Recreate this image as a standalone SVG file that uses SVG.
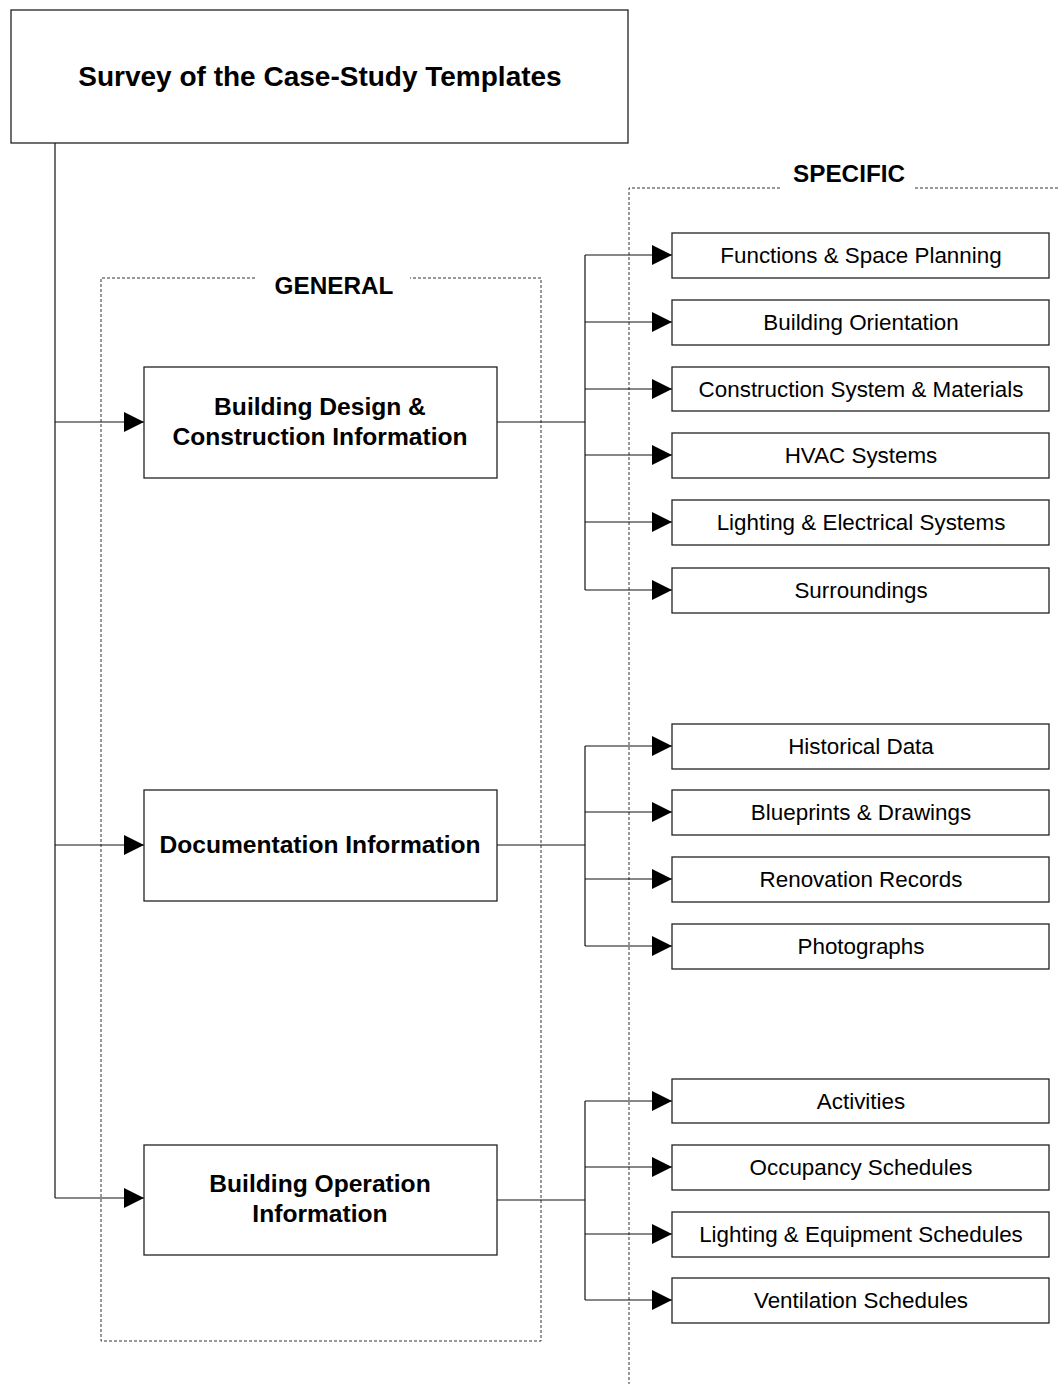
<svg xmlns="http://www.w3.org/2000/svg" width="1062" height="1384" viewBox="0 0 1062 1384">
<defs>
<marker id="arr" markerWidth="20" markerHeight="20" refX="20" refY="10" orient="auto" markerUnits="userSpaceOnUse">
<path d="M0,0 L20,10 L0,20 Z" fill="#000"/>
</marker>
<style>
.box{fill:#fff;stroke:#222;stroke-width:1.3}
.dash{fill:none;stroke:#333;stroke-width:1;stroke-dasharray:3,2}
.ln{fill:none;stroke:#111;stroke-width:1.2}
.t{font-family:"Liberation Sans",Arial,sans-serif;font-size:22.4px;fill:#000;text-anchor:middle}
.b{font-family:"Liberation Sans",Arial,sans-serif;font-weight:bold;font-size:24.6px;fill:#000;text-anchor:middle}
.h{font-family:"Liberation Sans",Arial,sans-serif;font-weight:bold;font-size:24.3px;fill:#000;text-anchor:middle}
</style>
</defs>
<rect width="1062" height="1384" fill="#fff"/>

<g id="general-frame">
<path class="dash" d="M255,278 H101 V1341 H541 V278 H410"/>
<text class="h" x="334" y="294">GENERAL</text>
</g>
<g id="specific-frame">
<path class="dash" d="M780,188 H629 V1384 M915,188 H1060"/>
<text class="h" x="849" y="182">SPECIFIC</text>
</g>

<g id="connectors">
<path class="ln" d="M55,143 V1198"/>
<path class="ln" d="M55,422 H144" marker-end="url(#arr)"/>
<path class="ln" d="M55,845 H144" marker-end="url(#arr)"/>
<path class="ln" d="M55,1198 H144" marker-end="url(#arr)"/>

<path class="ln" d="M497,422 H585"/>
<path class="ln" d="M585,255 V590"/>
<path class="ln" d="M585,255 H672" marker-end="url(#arr)"/>
<path class="ln" d="M585,322 H672" marker-end="url(#arr)"/>
<path class="ln" d="M585,389 H672" marker-end="url(#arr)"/>
<path class="ln" d="M585,455 H672" marker-end="url(#arr)"/>
<path class="ln" d="M585,522 H672" marker-end="url(#arr)"/>
<path class="ln" d="M585,590 H672" marker-end="url(#arr)"/>

<path class="ln" d="M497,845 H585"/>
<path class="ln" d="M585,746 V946"/>
<path class="ln" d="M585,746 H672" marker-end="url(#arr)"/>
<path class="ln" d="M585,812 H672" marker-end="url(#arr)"/>
<path class="ln" d="M585,879 H672" marker-end="url(#arr)"/>
<path class="ln" d="M585,946 H672" marker-end="url(#arr)"/>

<path class="ln" d="M497,1200 H585"/>
<path class="ln" d="M585,1101 V1300"/>
<path class="ln" d="M585,1101 H672" marker-end="url(#arr)"/>
<path class="ln" d="M585,1167 H672" marker-end="url(#arr)"/>
<path class="ln" d="M585,1234 H672" marker-end="url(#arr)"/>
<path class="ln" d="M585,1300 H672" marker-end="url(#arr)"/>
</g>

<g id="title">
<rect class="box" x="11" y="10" width="617" height="133"/>
<text class="b" x="320" y="86" style="font-size:28px">Survey of the Case-Study Templates</text>
</g>

<g id="bdci">
<rect class="box" x="144" y="367" width="353" height="111"/>
<text class="b" x="320" y="415">Building Design &amp;</text>
<text class="b" x="320" y="445">Construction Information</text>
</g>
<g id="doc">
<rect class="box" x="144" y="790" width="353" height="111"/>
<text class="b" x="320" y="853">Documentation Information</text>
</g>
<g id="boi">
<rect class="box" x="144" y="1145" width="353" height="110"/>
<text class="b" x="320" y="1192">Building Operation</text>
<text class="b" x="320" y="1222">Information</text>
</g>

<g id="n1"><rect class="box" x="672" y="233" width="377" height="45"/><text class="t" x="861" y="263">Functions &amp; Space Planning</text></g>
<g id="n2"><rect class="box" x="672" y="300" width="377" height="45"/><text class="t" x="861" y="330">Building Orientation</text></g>
<g id="n3"><rect class="box" x="672" y="367" width="377" height="44"/><text class="t" x="861" y="397">Construction System &amp; Materials</text></g>
<g id="n4"><rect class="box" x="672" y="433" width="377" height="45"/><text class="t" x="861" y="463">HVAC Systems</text></g>
<g id="n5"><rect class="box" x="672" y="500" width="377" height="45"/><text class="t" x="861" y="530">Lighting &amp; Electrical Systems</text></g>
<g id="n6"><rect class="box" x="672" y="568" width="377" height="45"/><text class="t" x="861" y="598">Surroundings</text></g>

<g id="n7"><rect class="box" x="672" y="724" width="377" height="45"/><text class="t" x="861" y="754">Historical Data</text></g>
<g id="n8"><rect class="box" x="672" y="790" width="377" height="45"/><text class="t" x="861" y="820">Blueprints &amp; Drawings</text></g>
<g id="n9"><rect class="box" x="672" y="857" width="377" height="45"/><text class="t" x="861" y="887">Renovation Records</text></g>
<g id="n10"><rect class="box" x="672" y="924" width="377" height="45"/><text class="t" x="861" y="954">Photographs</text></g>

<g id="n11"><rect class="box" x="672" y="1079" width="377" height="44"/><text class="t" x="861" y="1109">Activities</text></g>
<g id="n12"><rect class="box" x="672" y="1145" width="377" height="45"/><text class="t" x="861" y="1175">Occupancy Schedules</text></g>
<g id="n13"><rect class="box" x="672" y="1212" width="377" height="45"/><text class="t" x="861" y="1242">Lighting &amp; Equipment Schedules</text></g>
<g id="n14"><rect class="box" x="672" y="1278" width="377" height="45"/><text class="t" x="861" y="1308">Ventilation Schedules</text></g>
</svg>
